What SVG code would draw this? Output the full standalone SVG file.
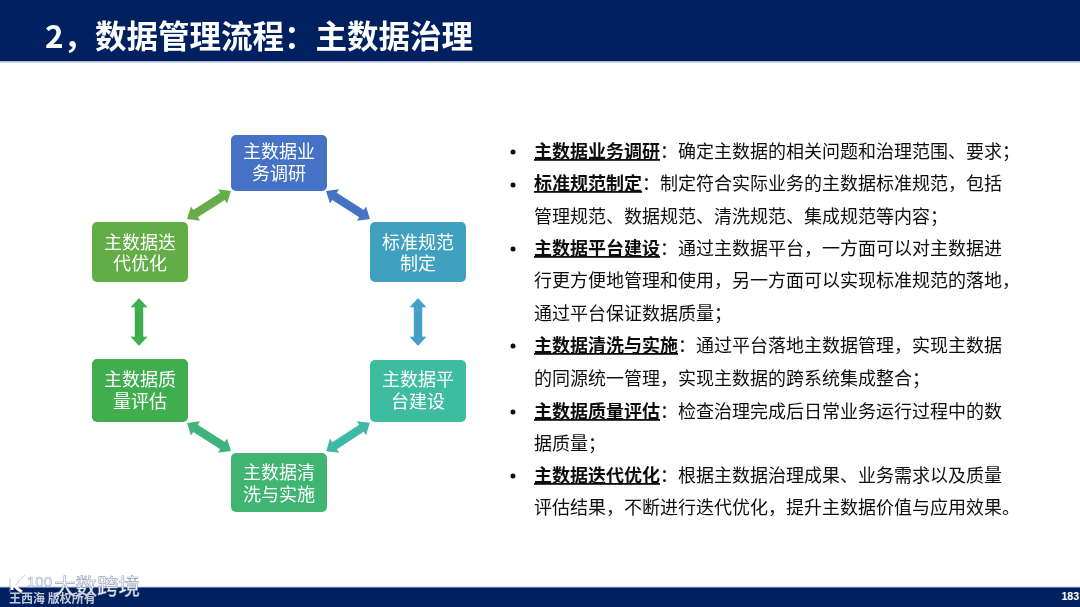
<svg xmlns="http://www.w3.org/2000/svg" width="1080" height="607" viewBox="0 0 1080 607">
<style>
text{font-family:"Liberation Sans","Noto Sans CJK SC",sans-serif}
.n{fill:#fff;font-size:18px;text-anchor:middle;font-family:"Noto Sans CJK SC",sans-serif}
.t{fill:#111;font-size:18px;font-family:"Noto Sans CJK SC",sans-serif}
.b{font-weight:700;text-decoration:underline}
.d{fill:#111}
</style>
<defs>
<filter id="s" x="-5%" y="-5%" width="110%" height="110%"><feGaussianBlur stdDeviation="0.4"/></filter>
<filter id="w" x="-5%" y="-20%" width="110%" height="140%"><feGaussianBlur stdDeviation="0.6"/></filter>
<polygon id="ar" points="-26,0 -16,-8.500 -16,-4.200 16,-4.200 16,-8.500 26,0 16,8.500 16,4.200 -16,4.200 -16,8.500"/>
</defs>
<rect width="1080" height="61" fill="#002060"/>
<rect y="61" width="1080" height="1.5" fill="#a9b4d6"/>
<text x="45" y="47.500" font-size="31.500" font-weight="700" fill="#fff" style="font-family:'Noto Sans CJK SC',sans-serif" filter="url(#s)">2，数据管理流程：主数据治理</text>
<rect y="587" width="1080" height="20" fill="#002060"/>
<rect y="586.500" width="1080" height="1" fill="#c5cde0"/>
<text x="1079" y="600" font-size="10.500" font-weight="700" fill="#fff" text-anchor="end">183</text>

<g id="connectors" filter="url(#s)">
<use href="#ar" transform="translate(348,205) rotate(32.500)" fill="#4472c4"/>
<use href="#ar" transform="translate(418,322) rotate(90) scale(.92,1)" fill="#45a0c5"/>
<use href="#ar" transform="translate(348,437) rotate(-33)" fill="#3fb8a5"/>
<use href="#ar" transform="translate(209,437) rotate(32.500)" fill="#3fb27c"/>
<use href="#ar" transform="translate(139,322) rotate(90) scale(.92,1)" fill="#3fae50"/>
<use href="#ar" transform="translate(209,205) rotate(-32.500)" fill="#66ad48"/>
</g>

<g filter="url(#s)">
<g id="node1"><rect x="231" y="135" width="96" height="56" rx="5" fill="#4472c4"/><text class="n"><tspan x="279" y="158">主数据业</tspan><tspan x="279" y="180">务调研</tspan></text></g>
<g id="node2"><rect x="370" y="222" width="96" height="60" rx="5" fill="#41a0bf"/><text class="n"><tspan x="418" y="249">标准规范</tspan><tspan x="418" y="270">制定</tspan></text></g>
<g id="node3"><rect x="370" y="360" width="96" height="62" rx="5" fill="#3ebc9f"/><text class="n"><tspan x="418" y="386">主数据平</tspan><tspan x="418" y="408">台建设</tspan></text></g>
<g id="node4"><rect x="231" y="453" width="96" height="59" rx="5" fill="#3fb572"/><text class="n"><tspan x="279" y="479">主数据清</tspan><tspan x="279" y="501">洗与实施</tspan></text></g>
<g id="node5"><rect x="92" y="359" width="96" height="63" rx="5" fill="#3fae50"/><text class="n"><tspan x="140" y="386">主数据质</tspan><tspan x="140" y="408">量评估</tspan></text></g>
<g id="node6"><rect x="92" y="222" width="96" height="60" rx="5" fill="#62ad45"/><text class="n"><tspan x="140" y="249">主数据迭</tspan><tspan x="140" y="270">代优化</tspan></text></g>

<g id="list">
<circle class="d" cx="513" cy="152" r="2.500"/>
<circle class="d" cx="513" cy="185" r="2.500"/>
<circle class="d" cx="513" cy="249" r="2.500"/>
<circle class="d" cx="513" cy="346" r="2.500"/>
<circle class="d" cx="513" cy="412" r="2.500"/>
<circle class="d" cx="513" cy="476" r="2.500"/>
<text class="t" x="534" y="158"><tspan class="b">主数据业务调研</tspan>：确定主数据的相关问题和治理范围、要求；</text>
<text class="t" x="534" y="190"><tspan class="b">标准规范制定</tspan>：制定符合实际业务的主数据标准规范，包括</text>
<text class="t" x="534" y="223">管理规范、数据规范、清洗规范、集成规范等内容；</text>
<text class="t" x="534" y="255"><tspan class="b">主数据平台建设</tspan>：通过主数据平台，一方面可以对主数据进</text>
<text class="t" x="534" y="287">行更方便地管理和使用，另一方面可以实现标准规范的落地，</text>
<text class="t" x="534" y="320">通过平台保证数据质量；</text>
<text class="t" x="534" y="352"><tspan class="b">主数据清洗与实施</tspan>：通过平台落地主数据管理，实现主数据</text>
<text class="t" x="534" y="385">的同源统一管理，实现主数据的跨系统集成整合；</text>
<text class="t" x="534" y="418"><tspan class="b">主数据质量评估</tspan>：检查治理完成后日常业务运行过程中的数</text>
<text class="t" x="534" y="450">据质量；</text>
<text class="t" x="534" y="482"><tspan class="b">主数据迭代优化</tspan>：根据主数据治理成果、业务需求以及质量</text>
<text class="t" x="534" y="514">评估结果，不断进行迭代优化，提升主数据价值与应用效果。</text>
</g>
</g>

<g id="watermark" filter="url(#w)">
<path d="M12 578V590M24 577Q16 582 14 585Q18 590 22 592" fill="none" stroke="#fff" stroke-width="3"/>
<path d="M10 578V592M25 575Q18 580 16 585" fill="none" stroke="#aeb6c8" stroke-width=".7"/>
<text x="27" y="587" font-size="15" fill="#fff" stroke="#a5aec2" stroke-width=".6">100</text>
<text x="54" y="594" font-size="21.500" fill="#fff" stroke="#9aa3b8" stroke-width=".6" style="font-family:'Noto Sans CJK SC',sans-serif">大数跨境</text>
<text x="9" y="603" font-size="12" font-weight="700" fill="#c3cadb" style="font-family:'Noto Sans CJK SC',sans-serif">王西海 版权所有</text>
</g>
</svg>
